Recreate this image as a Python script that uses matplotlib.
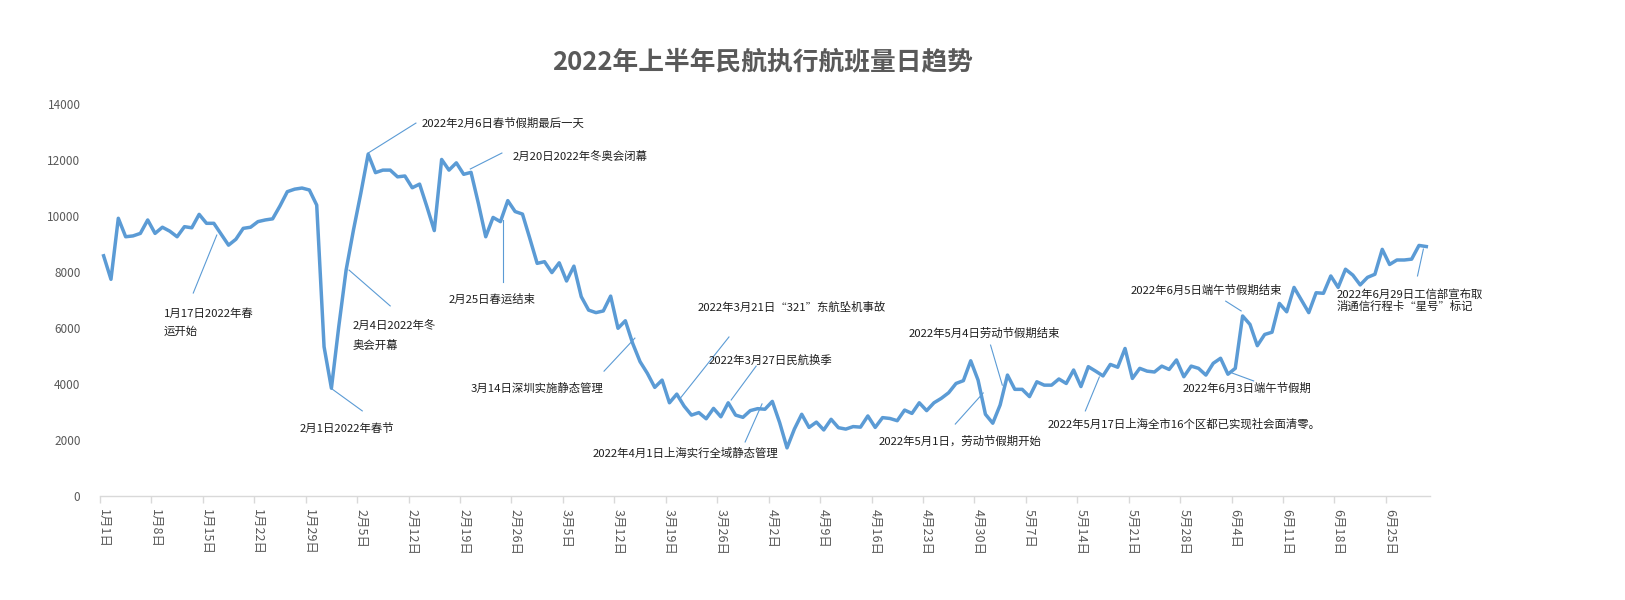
"""2022年上半年民航执行航班量日趋势 — daily flight count, Jan 1 to Jun 30 2022."""
import matplotlib
matplotlib.use("Agg")
import matplotlib.pyplot as plt
import numpy as np

plt.rcParams["font.family"] = ["Noto Sans CJK SC", "DejaVu Sans"]

TITLE = "2022年上半年民航执行航班量日趋势"

# one value per day, 2022-01-01 .. 2022-06-30
flights = [
    8580, 7740, 9920, 9260, 9290, 9380, 9860, 9380, 9600, 9460,
    9260, 9620, 9580, 10060, 9740, 9740, 9350, 8960, 9170, 9560,
    9600, 9800, 9860, 9900, 10360, 10870, 10960, 11000, 10930, 10390,
    5330, 3850, 6050, 8070, 9500, 10810, 12210, 11550, 11640, 11640,
    11400, 11430, 11010, 11140, 10330, 9480, 12020, 11640, 11900, 11490,
    11560, 10450, 9260, 9950, 9800, 10550, 10160, 10070, 9200, 8310,
    8370, 7980, 8330, 7680, 8210, 7120, 6640, 6550, 6610, 7140,
    5990, 6260, 5450, 4800, 4380, 3880, 4140, 3330, 3640, 3210,
    2890, 2980, 2760, 3130, 2830, 3330, 2890, 2810, 3050, 3120,
    3100, 3380, 2620, 1720, 2390, 2920, 2450, 2640, 2360, 2740,
    2440, 2390, 2480, 2460, 2860, 2450, 2800, 2770, 2690, 3070,
    2950, 3330, 3050, 3330, 3490, 3690, 4020, 4120, 4830, 4140,
    2920, 2600, 3250, 4320, 3810, 3810, 3550, 4080, 3960, 3960,
    4180, 4020, 4500, 3910, 4620, 4460, 4290, 4700, 4600, 5270,
    4200, 4560, 4460, 4430, 4640, 4520, 4860, 4260, 4640, 4560,
    4320, 4740, 4920, 4350, 4560, 6430, 6130, 5370, 5770, 5850,
    6880, 6580, 7450, 7000, 6550, 7260, 7240, 7860, 7450, 8100,
    7890, 7540, 7810, 7920, 8810, 8270, 8430, 8430, 8460, 8950,
    8910,
]

tick_labels = [
    "1月1日", "1月8日", "1月15日", "1月22日", "1月29日", "2月5日", "2月12日",
    "2月19日", "2月26日", "3月5日", "3月12日", "3月19日", "3月26日", "4月2日",
    "4月9日", "4月16日", "4月23日", "4月30日", "5月7日", "5月14日", "5月21日",
    "5月28日", "6月4日", "6月11日", "6月18日", "6月25日",
]
y_ticks = [0, 2000, 4000, 6000, 8000, 10000, 12000, 14000]

# (label, text x in days, text y in flights, leader start (day, flights), leader end (day, flights))
annotations = [
    ("1月17日2022年春\n运开始", 8.2, 6200, (15.4, 9320), (12.2, 7250)),
    ("2月4日2022年冬\n奥会开幕", 33.9, 5730, (33.4, 8070), (39.0, 6790)),
    ("2月1日2022年春节", 26.7, 2430, (31.1, 3820), (35.2, 3040)),
    ("2022年2月6日春节假期最后一天", 43.3, 13320, (36.0, 12250), (42.5, 13320)),
    ("2月20日2022年冬奥会闭幕", 55.7, 12140, (49.9, 11680), (54.2, 12250)),
    ("2月25日春运结束", 46.9, 7040, (54.4, 9860), (54.4, 7640)),
    ("3月14日深圳实施静态管理", 49.9, 3860, (68.1, 4460), (72.3, 5640)),
    ("2022年3月21日“321”东航坠机事故", 80.8, 6750, (78.5, 3500), (85.1, 5680)),
    ("2022年3月27日民航换季", 82.3, 4860, (85.4, 3430), (88.8, 4640)),
    ("2022年4月1日上海实行全域静态管理", 66.6, 1540, (87.3, 1930), (89.6, 3290)),
    ("2022年5月1日，劳动节假期开始", 105.4, 1960, (115.9, 2570), (119.7, 3680)),
    ("2022年5月4日劳动节假期结束", 109.5, 5820, (120.7, 5390), (122.3, 3960)),
    ("2022年5月17日上海全市16个区都已实现社会面清零。", 128.5, 2570, (133.6, 3040), (135.5, 4250)),
    ("2022年6月5日端午节假期结束", 139.7, 7360, (152.7, 6960), (154.8, 6610)),
    ("2022年6月3日端午节假期", 146.8, 3860, (153.6, 4390), (156.5, 4110)),
    ("2022年6月29日工信部宣布取\n消通信行程卡“星号”标记", 167.8, 6980, (178.8, 7860), (179.6, 8820)),
]

LINE_BLUE = "#5b9bd5"
GREY_TEXT = "#595959"


def main() -> None:
    fig = plt.figure(figsize=(16.25, 6), dpi=100)
    ax = fig.add_axes([0.0615, 0.1733, 0.8185, 0.6533])

    days = np.arange(len(flights))
    ax.plot(days, flights, color=LINE_BLUE, lw=2.5, solid_joinstyle="round")

    for label, tx, ty, p0, p1 in annotations:
        ax.plot([p0[0], p1[0]], [p0[1], p1[1]], color=LINE_BLUE, lw=0.8)
        spacing = 1.15 if label.startswith("2022年6月29日") else 1.9
        ax.text(tx, ty, label, ha="left", va="center", fontsize=8.2,
                color="#1f1f1f", linespacing=spacing)

    ax.set_xlim(-0.5, len(flights) - 0.5)
    ax.set_ylim(0, 14000)

    ax.set_xticks(np.arange(0, len(flights), 7))
    ax.set_xticklabels(tick_labels, rotation=-90, fontsize=9, color=GREY_TEXT)
    ax.set_xticks(np.arange(-0.5, len(flights), 7), minor=True)
    ax.tick_params(axis="x", which="major", length=0, pad=9)
    ax.tick_params(axis="x", which="minor", length=5, color="#d9d9d9", width=1)

    ax.set_yticks(y_ticks)
    ax.set_yticklabels([str(v) for v in y_ticks], fontsize=8.5, color=GREY_TEXT)
    ax.tick_params(axis="y", length=0, pad=14)

    for side in ("top", "right", "left"):
        ax.spines[side].set_visible(False)
    ax.spines["bottom"].set_color("#d9d9d9")
    ax.spines["bottom"].set_linewidth(1)

    fig.text(0.469, 0.897, TITLE, ha="center", va="center", fontsize=18.5,
             fontweight="bold", color=GREY_TEXT)

    fig.savefig("out.png", dpi=100)


if __name__ == "__main__":
    main()
